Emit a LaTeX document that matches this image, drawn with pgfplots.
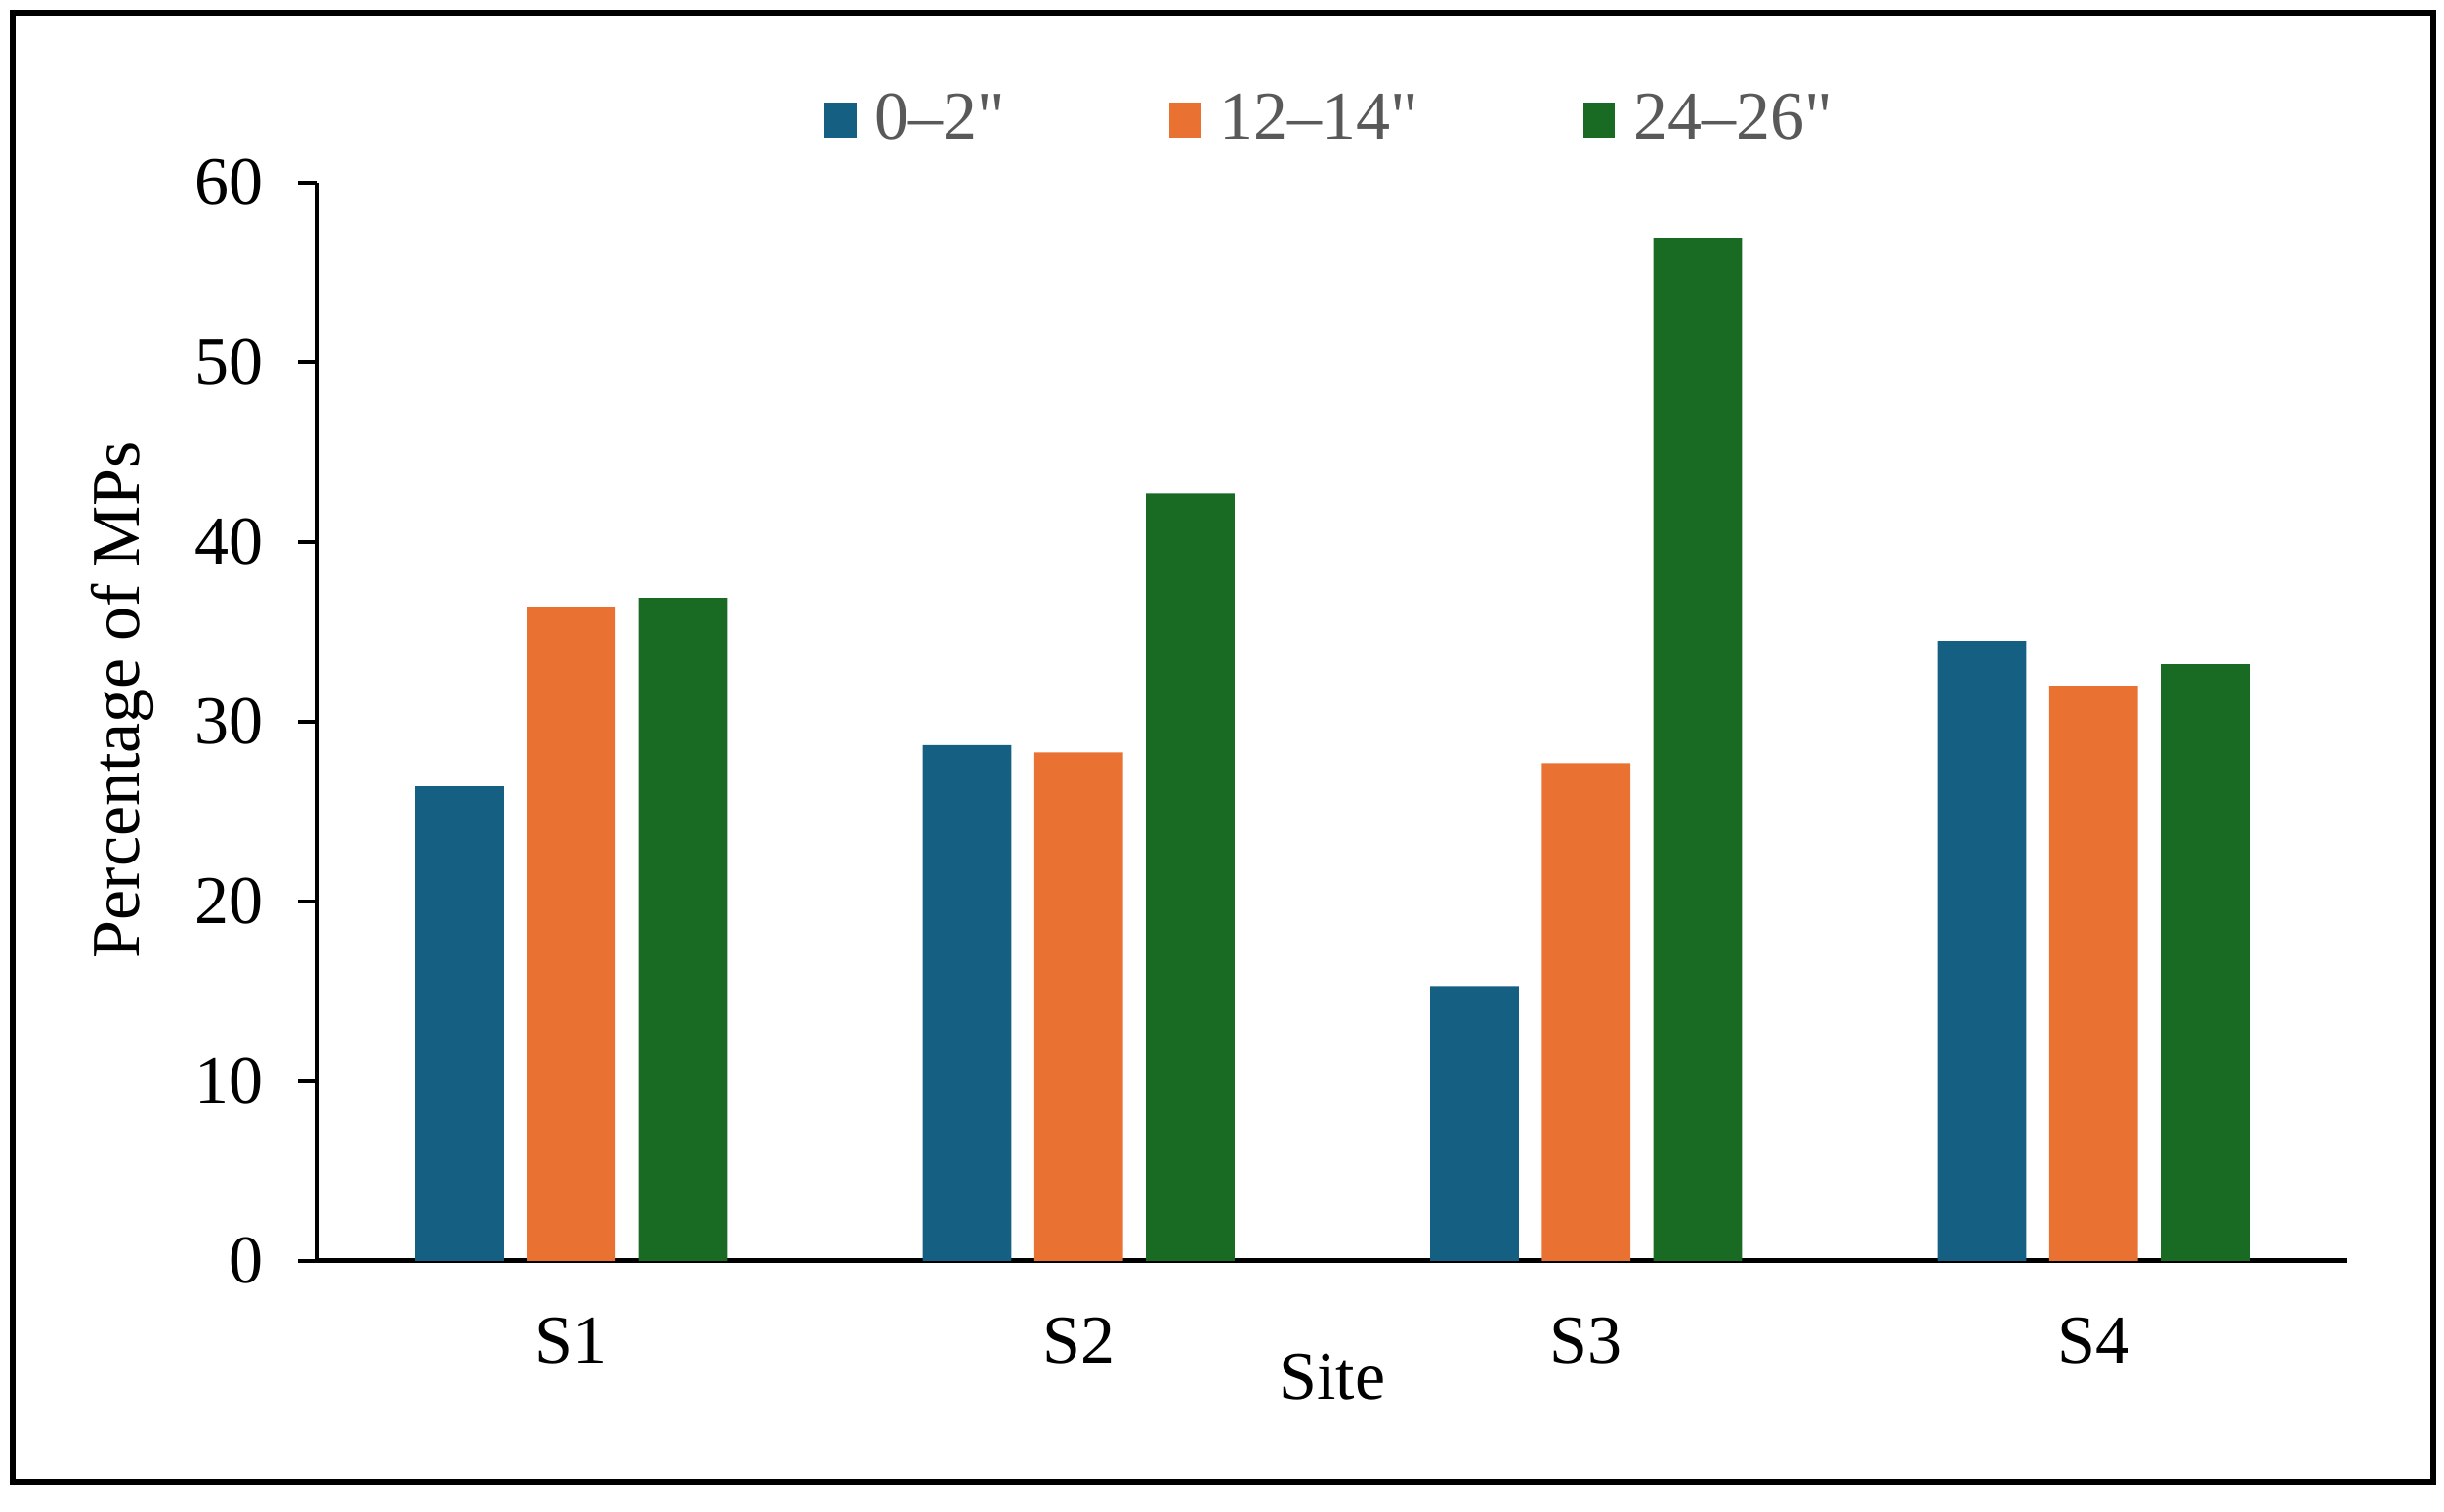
\documentclass[border=0pt]{standalone}
\usepackage{pgfplots}
\pgfplotsset{compat=1.18}
\usepackage{fontspec}
\setmainfont{Liberation Serif}[Ligatures=TeXOff]

\definecolor{cblue}{HTML}{156082}
\definecolor{corange}{HTML}{E97132}
\definecolor{cgreen}{HTML}{196B24}
\definecolor{lgray}{HTML}{595959}

\pgfplotsset{
  sq legend/.style={legend image code/.code={\fill[##1] (0pt,-3.6pt) rectangle (6.5pt,3.6pt);}},
}

\begin{document}
\begin{tikzpicture}
  \path[use as bounding box] (-65pt,-51.4pt) rectangle (435.4pt,258.2pt);
  \begin{axis}[
      width=415.6pt, height=220.8pt, scale only axis,
      xmin=0.5, xmax=4.5, ymin=0, ymax=60,
      xtick={1,2,3,4}, xticklabels={S1,S2,S3,S4},
      ytick={0,10,...,60},
      axis x line*=bottom, axis y line*=left,
      axis line style={line width=1pt, -},
      x tick style={draw=none},
      y tick style={black, line width=0.9pt},
      tick align=outside, major tick length=4pt,
      font=\fontsize{14}{16}\selectfont,
      /pgf/number format/assume math mode=true,
      yticklabel style={xshift=-3.5pt},
      xticklabel style={anchor=north, yshift=-4pt},
      xlabel={Site},
      ylabel={Percentage of MPs},
      every axis x label/.style={at={(0.5,0)}, anchor=north, yshift=-15.5pt},
      every axis y label/.style={at={(0,0.52)}, rotate=90, anchor=center, yshift=40pt},
      legend columns=3,
      legend style={at={(0.5,1)}, anchor=center, yshift=12.8pt, draw=none,
        text=lgray, font=\fontsize{14}{16}\selectfont,
        nodes={inner sep=1.6pt},
        /tikz/every odd column/.append style={column sep=2.2pt},
        /tikz/every even column/.append style={column sep=32pt}},
      bar width=0.175,
    ]
    \addplot[ybar, bar shift=-0.22, fill=cblue, draw=none, sq legend]
      coordinates {(1,26.4) (2,28.7) (3,15.3) (4,34.5)};
    \addplot[ybar, bar shift=0, fill=corange, draw=none, sq legend]
      coordinates {(1,36.4) (2,28.3) (3,27.7) (4,32.0)};
    \addplot[ybar, bar shift=0.22, fill=cgreen, draw=none, sq legend]
      coordinates {(1,36.9) (2,42.7) (3,56.9) (4,33.2)};
    \legend{0–2",12–14",24–26"}
  \end{axis}
  \draw[line width=1.1pt] (-62.4pt,-45.2pt) rectangle (433.2pt,255.6pt);
\end{tikzpicture}
\end{document}
